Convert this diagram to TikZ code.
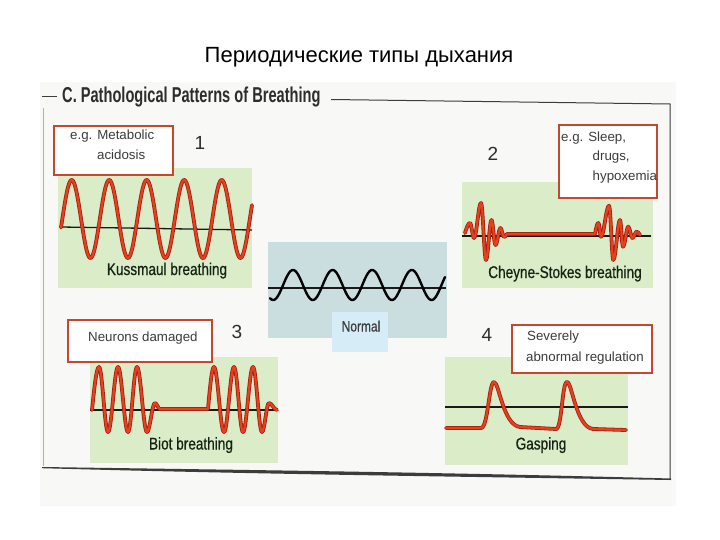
\documentclass[tikz,border=0pt]{standalone}
\usepackage{fontspec}
\setmainfont{Liberation Sans}
\newfontfamily\condfont[FakeStretch=0.8,FakeBold=0.5]{Liberation Sans}
\newfontfamily\headfont[FakeStretch=0.68]{Liberation Sans}
\definecolor{paper}{RGB}{248,248,246}
\definecolor{panelgreen}{RGB}{218,236,200}
\definecolor{panelblue}{RGB}{202,222,224}
\definecolor{tabblue}{RGB}{214,236,246}
\definecolor{boxred}{RGB}{196,72,48}
\definecolor{wavedark}{RGB}{165,30,20}
\definecolor{wavelight}{RGB}{226,66,30}
\definecolor{inktext}{RGB}{20,35,20}
\definecolor{greytext}{RGB}{60,60,60}
\definecolor{frameline}{RGB}{60,60,60}
\tikzset{
  panel/.style={fill=panelgreen},
  redbox/.style={draw=boxred, line width=1.6pt, fill=white},
  redwave/.style={draw=wavedark, line width=0.8pt, double=wavelight, double distance=2.2pt, line join=round, line cap=round},
  axisline/.style={draw={rgb,255:red,25;green,25;blue,25}, line width=1.3pt},
  plabel/.style={inner sep=0pt, anchor=base, font=\condfont\fontsize{17}{19}\selectfont, text=inktext},
  boxtext/.style={inner sep=0pt, anchor=base west, font=\fontsize{13.3}{15}\selectfont, text=greytext},
  numlabel/.style={inner sep=0pt, font=\fontsize{19}{21}\selectfont, text={rgb,255:red,45;green,45;blue,45}}
}
\begin{document}
\begin{tikzpicture}[x=1pt,y=-1pt]
\useasboundingbox (0,0) rectangle (720,540);
\fill[white] (0,0) rectangle (720,540);
% page area
\fill[paper] (40,82) rectangle (676,506);

% main title
\node[inner sep=0pt, anchor=base, font=\fontsize{22}{26}\selectfont] (title) at (359,63) {Периодические типы дыхания};

% header of figure
\node[inner sep=0pt, anchor=base west, font=\headfont\bfseries\fontsize{21.5}{24}\selectfont, text={rgb,255:red,45;green,45;blue,45}] (head) at (62,103) {C. Pathological Patterns of Breathing};
\draw[frameline, line width=1pt] (42,97) -- (57,97);
\draw[frameline, line width=1pt] (331,99.5) -- (670,104) -- (670,480);
\draw[gray!60, line width=0.8pt] (43,108) -- (43,466);
\fill[frameline] (42,467) .. controls (250,470) and (450,472.5) .. (671,478.5)
   -- (671,480) .. controls (450,476.5) and (250,474) .. (42,468.2) -- cycle;

% ---------- Panel 1: Kussmaul ----------
\fill[panel] (58,168) rectangle (252,288);
\draw[axisline] (61,227) -- (252,230);
\draw[redwave] plot[domain=61:252, samples=240] (\x,{219-39*cos(9.6*(\x-71.7))});
\draw[redbox] (54,126) rectangle (173,175);
\node[boxtext] (k1) at (70,140) {e.g. Metabolic};
\node[boxtext] (k2) at (97,160) {acidosis};
\node[numlabel] (n1) at (200,143) {1};
\node[plabel] (kuss) at (167,275) {Kussmaul breathing};

% ---------- Panel 2: Cheyne-Stokes ----------
\fill[panel] (462,182) rectangle (653,288);
\draw[axisline] (462,236) -- (651,236);
\draw[redwave] (465,233) sin (470,223) cos (472,230.5) sin (474,238) cos (477.5,220.5) sin (481,203)
   cos (483.5,231.5) sin (486,260) cos (488.75,240) sin (491.5,220) cos (493.5,232.5) sin (495.5,245)
   cos (498,236.5) sin (500.5,228) cos (502.25,232.5) sin (504,237) cos (507,234) -- (595,234)
   sin (598.3,223) cos (599.7,229.8) sin (601,236.7) cos (605,221.2) sin (609,205.7)
   cos (611.2,232.8) sin (613.3,260) cos (616.7,240) sin (620,220) cos (621.5,233.3) sin (623,246.7)
   cos (625.7,236.7) sin (628.3,226.7) cos (630.3,232.3) sin (632.3,238) cos (634.5,234.8)
   sin (636.7,231.7) cos (640,235);
\draw[redbox] (559,125) rectangle (657,198);
\node[boxtext] (c1) at (561,141.5) {e.g. Sleep,};
\node[boxtext] (c2) at (592.5,161) {drugs,};
\node[boxtext] (c3) at (592.5,181) {hypoxemia};
\node[numlabel] (n2) at (493,154) {2};
\node[plabel] (cheyne) at (565,278) {Cheyne-Stokes breathing};

% ---------- Normal ----------
\fill[panelblue] (268,242) rectangle (447,338);
\fill[tabblue] (332,312) rectangle (388,352);
\draw[axisline] (268,288) -- (446,288);
\draw[line width=2.4pt, line cap=round] plot[domain=270:445, samples=200] (\x,{285-15*cos(9.0909*(\x-293))});
\node[plabel, font=\condfont\fontsize{15}{16}\selectfont, text=greytext] (normal) at (361,331.5) {Normal};

% ---------- Panel 3: Biot ----------
\fill[panel] (90,357) rectangle (278,463);
\draw[axisline] (90,410) -- (278,410);
\draw[redwave] (92,410) sin (99,367) cos (103.5,399.5) sin (108,432) cos (113,399.5) sin (118,367)
   cos (123,399.5) sin (128,432) cos (132.5,399.5) sin (137,367) cos (142,399.5) sin (147,432)
   cos (151,417.5) sin (155,403) cos (157.5,406) sin (160,409) -- (208,409)
   sin (214,367) cos (219,399.5) sin (224,432) cos (229,399.5) sin (234,367) cos (238.5,399.5)
   sin (243,432) cos (248,399.5) sin (253,367) cos (257.5,399.5) sin (262,432)
   cos (265.5,417.5) sin (269,403) cos (273,406.5) sin (277,410);
\draw[redbox] (68,320) rectangle (212,362);
\node[boxtext] (b1) at (88,341.5) {Neurons damaged};
\node[numlabel] (n3) at (237,332) {3};
\node[plabel] (biot) at (191,449.5) {Biot breathing};

% ---------- Panel 4: Gasping ----------
\fill[panel] (445,357) rectangle (628,465);
\draw[axisline] (445,407) -- (628,407);
\draw[redwave] (446,428) -- (481,428) .. controls (488,428) and (489,382) .. (494,382)
   .. controls (499,382) and (503,425) .. (520,427) -- (556,429)
   .. controls (562,429) and (562,382) .. (567,382)
   .. controls (572,382) and (576,427) .. (593,429) -- (626,430);
\draw[redbox] (512,325) rectangle (652,373);
\node[boxtext] (g1) at (527,340) {Severely};
\node[boxtext] (g2) at (526,361.5) {abnormal regulation};
\node[numlabel] (n4) at (487,335) {4};
\node[plabel] (gasp) at (541,449.5) {Gasping};
\end{tikzpicture}
\end{document}
